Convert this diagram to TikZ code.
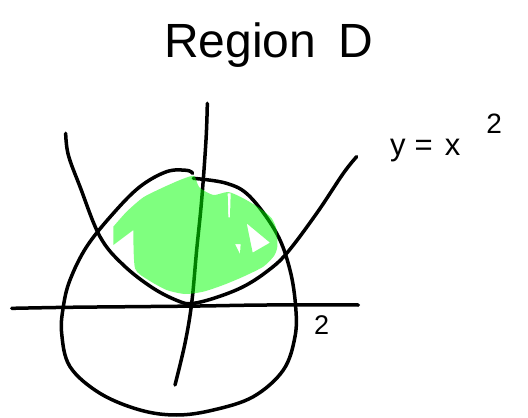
\documentclass[tikz,border=0pt]{standalone}
\usepackage{fontspec}
\setmainfont{Liberation Sans}
\begin{document}
\begin{tikzpicture}[x=1pt,y=-1pt,
  ink/.style={line width=3.5pt,line cap=round,line join=round,black},
  hl/.style={fill={rgb,255:red,0;green,255;blue,0},fill opacity=0.5,even odd rule},
  hand/.style={inner sep=0pt,anchor=base west}]
\useasboundingbox[fill=white] (0,0) rectangle (528,418);
% title
\node[hand,font=\fontsize{48}{52}\selectfont] (title) at (164,57) {Region\hspace{22pt}D};
% equation label
\node[hand,font=\fontsize{31}{34}\selectfont] (eq) at (390,155)
  {y\hspace{9pt}=\hspace{12pt}x\hspace{26pt}\raisebox{22pt}{\fontsize{28}{30}\selectfont 2}};
% tick label
\node[hand,font=\fontsize{27}{30}\selectfont] (two) at (314,334) {2};
\begin{scope}[yshift=-90pt,x=1pt/3,y=-1pt/3]
% axes
\draw[ink] plot[smooth,tension=0.6] coordinates {(622,40) (618,150) (605,330) (590,480) (575,640) (555,760) (525,885)};
\draw[ink] plot[smooth,tension=0.6] coordinates {(35,655) (200,652) (400,650) (600,648) (800,645) (1075,645)};
% parabola
\draw[ink] plot[smooth,tension=0.6] coordinates {(197,130) (205,195) (240,290) (300,440) (370,525) (460,595) (540,635) (580,640) (650,622) (730,590) (800,545) (860,490) (950,370) (1030,250) (1070,200)};
% circle
\draw[ink] plot[smooth,tension=0.6] coordinates {(578,250) (560,241) (500,245) (420,290) (340,370) (260,470) (210,570) (190,650) (185,730) (210,830) (300,910) (420,960) (530,975) (640,960) (760,920) (850,840) (885,740) (887,650) (870,540) (830,430) (750,320) (680,280) (580,265)};
% shaded region D
\path[hl] plot[smooth,tension=0.4] coordinates {(340,410) (380,365) (430,322) (490,292) (545,268) (582,258) (598,292) (640,315) (685,306) (730,325) (780,355) (815,385) (830,420) (832,470) (822,498) (790,530) (730,560) (670,585) (610,605) (555,612) (500,600) (445,570) (405,535) (400,420)} -- (340,465) -- cycle
  (740,400) -- (810,458) -- (758,488) -- cycle
  (705,462) -- (722,462) -- (720,492) -- cycle
  (683,310) -- (692,310) -- (690,382) -- (685,382) -- cycle;
\end{scope}
\end{tikzpicture}
\end{document}
